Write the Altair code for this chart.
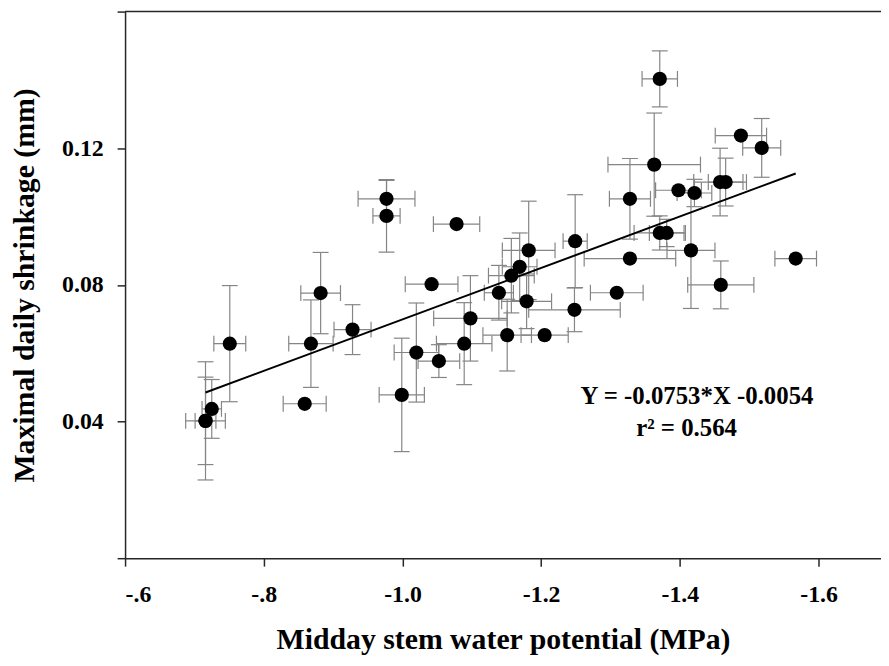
import altair as alt
import pandas as pd

# ---- data ----
x_vals = [-0.716, -0.716, -0.725, -0.751, -0.859, -0.868, -0.882, -0.928, -0.977, -0.977,
          -0.999, -1.020, -1.042, -1.0525, -1.078, -1.089, -1.098, -1.139, -1.151, -1.157,
          -1.169, -1.179, -1.182, -1.205, -1.248, -1.249, -1.309, -1.328, -1.328, -1.363,
          -1.371, -1.371, -1.381, -1.398, -1.416, -1.421, -1.458, -1.466, -1.459, -1.488,
          -1.518, -1.567]
y_vals = [0.0402, 0.0402, 0.0437, 0.0628, 0.0452, 0.0628, 0.0776, 0.0669, 0.1052, 0.1002,
          0.0478, 0.0602, 0.0802, 0.0577, 0.0978, 0.0628, 0.0702, 0.0777, 0.0653, 0.0827,
          0.0853, 0.0752, 0.0901, 0.0653, 0.0727, 0.0928, 0.0777, 0.0877, 0.1052, 0.1152,
          0.1403, 0.0952, 0.0952, 0.1077, 0.0901, 0.1069, 0.1101, 0.1101, 0.0800, 0.1237,
          0.1201, 0.0877]
x_err = [0.0286, 0.015, 0.014, 0.023, 0.031, 0.032, 0.0286, 0.0267, 0.041, 0.0196,
         0.0326, 0.032, 0.038, 0.030, 0.0334, 0.040, 0.053, 0.021, 0.035, 0.033,
         0.025, 0.036, 0.038, 0.034, 0.066, 0.0174, 0.038, 0.066, 0.0296, 0.0667,
         0.0255, 0.037, 0.025, 0.033, 0.0346, 0.025, 0.038, 0.025, 0.0477, 0.037,
         0.0274, 0.030]
y_err = [0.0173, 0.0128, 0.0086, 0.017, 0.0, 0.0128, 0.0119, 0.0073, 0.0054, 0.0106,
         0.0166, 0.0145, 0.0, 0.0048, 0.0, 0.012, 0.0125, 0.008, 0.0105, 0.0109,
         0.0099, 0.008, 0.0144, 0.0, 0.0064, 0.0136, 0.0, 0.0, 0.0118, 0.0151,
         0.0082, 0.005, 0.004, 0.0, 0.017, 0.004, 0.0099, 0.007, 0.007, 0.0,
         0.0086, 0.0]

slope = -0.0753
intercept = -0.0054
eq_text = "Y = -0.0753*X -0.0054"
r2_text = "r\u00b2 = 0.564"

x_ticks = [-0.6, -0.8, -1.0, -1.2, -1.4, -1.6]
y_ticks = [0.0, 0.04, 0.08, 0.12, 0.16]
x_title = "Midday stem water potential (MPa)"
y_title = "Maximal daily shrinkage (mm)"

# ---- tables ----
df = pd.DataFrame({"x": x_vals, "y": y_vals, "xe": x_err, "ye": y_err})
df["x_lo"] = df["x"] - df["xe"]
df["x_hi"] = df["x"] + df["xe"]
df["y_lo"] = df["y"] - df["ye"]
df["y_hi"] = df["y"] + df["ye"]

hb = df[df["xe"] > 0]
vb = df[df["ye"] > 0]
hcaps = pd.concat([pd.DataFrame({"x": hb["x_lo"], "y": hb["y"]}),
                   pd.DataFrame({"x": hb["x_hi"], "y": hb["y"]})])
vcaps = pd.concat([pd.DataFrame({"x": vb["x"], "y": vb["y_lo"]}),
                   pd.DataFrame({"x": vb["x"], "y": vb["y_hi"]})])

xmin, xmax = min(x_vals), max(x_vals)
fit = pd.DataFrame({"x": [xmax, xmin]})
fit["y"] = slope * fit["x"] + intercept

FONT = "Liberation Serif"
W, H = 762, 551
GRAY = "#858585"
AX = "#262626"

xs = alt.Scale(domain=[-1.69, -0.6], reverse=True, nice=False, zero=False)
ys = alt.Scale(domain=[0, 0.16], nice=False, zero=False)

x_axis = alt.Axis(
    values=x_ticks,
    labelExpr="'-' + (abs(datum.value) < 1 ? substring(format(abs(datum.value), '.1f'), 1) : format(abs(datum.value), '.1f'))",
    title=x_title, tickSize=8, labelPadding=17, titleY=67,
)
y_axis = alt.Axis(
    values=y_ticks,
    labelExpr="(datum.value < 0.01 || datum.value > 0.15) ? '' : format(datum.value, '.2f')",
    title=y_title, tickSize=8, labelPadding=14, titleX=-86, titleY=H / 2,
)


def X(f):
    return alt.X(f, type="quantitative", scale=xs, axis=x_axis)


def Y(f):
    return alt.Y(f, type="quantitative", scale=ys, axis=y_axis)


hbars = alt.Chart(hb).mark_rule(color=GRAY, strokeWidth=1.2).encode(
    x=X("x_lo"), x2="x_hi", y=Y("y"))
vbars = alt.Chart(vb).mark_rule(color=GRAY, strokeWidth=1.2).encode(
    x=X("x"), y=Y("y_lo"), y2="y_hi")
hcap = alt.Chart(hcaps).mark_tick(orient="vertical", size=16, thickness=1.2, color=GRAY, opacity=1).encode(
    x=X("x"), y=Y("y"))
vcap = alt.Chart(vcaps).mark_tick(orient="horizontal", size=16, thickness=1.2, color=GRAY, opacity=1).encode(
    x=X("x"), y=Y("y"))

line = alt.Chart(fit).mark_line(color="black", strokeWidth=2).encode(x=X("x"), y=Y("y"))

pts = alt.Chart(df).mark_circle(size=205, color="black", opacity=1).encode(x=X("x"), y=Y("y"))

top = alt.Chart(pd.DataFrame({"y": [0.16]})).mark_rule(color=AX, strokeWidth=1.5).encode(
    x=alt.value(0), x2=alt.value(W), y=Y("y"))

t1 = alt.Chart(pd.DataFrame({"t": [eq_text]})).mark_text(
    font=FONT, fontSize=25, fontWeight="bold", color="black", align="center", baseline="alphabetic"
).encode(x=alt.value(576.5), y=alt.value(396), text="t:N")
t2 = alt.Chart(pd.DataFrame({"t": [r2_text]})).mark_text(
    font=FONT, fontSize=25, fontWeight="bold", color="black", align="center", baseline="alphabetic"
).encode(x=alt.value(566), y=alt.value(427.7), text="t:N")

chart = alt.layer(hbars, vbars, hcap, vcap, line, top, pts, t1, t2).properties(
    width=W, height=H,
    autosize=alt.AutoSizeParams(type="none"),
    padding={"left": 118, "top": 1, "right": 0, "bottom": 98},
).configure_view(stroke=None).configure_axis(
    grid=False,
    domainColor=AX, domainWidth=1.5, tickColor=AX, tickWidth=1.5,
    labelFont=FONT, labelFontSize=24, labelFontWeight="bold", labelColor="black",
    titleFont=FONT, titleFontSize=30, titleFontWeight="bold", titleColor="black",
)

chart.save("out.html", embed_options={"renderer": "svg", "actions": False})
